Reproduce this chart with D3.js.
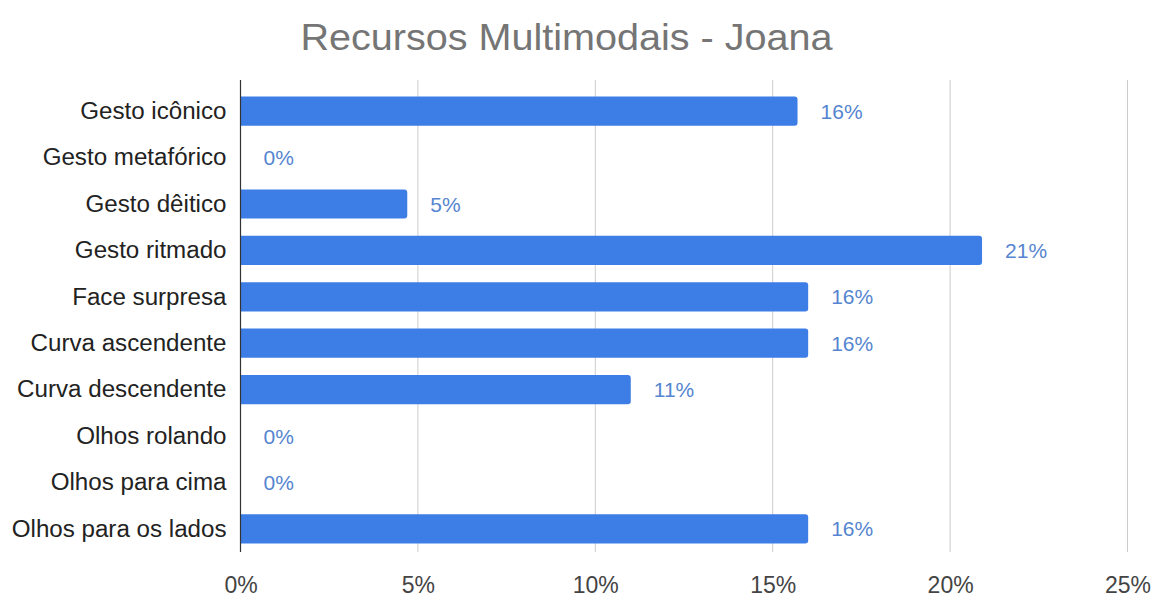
<!DOCTYPE html>
<html>
<head>
<meta charset="utf-8">
<script src="https://cdn.jsdelivr.net/npm/d3@7"></script>
<style>
  html, body { margin: 0; padding: 0; background: #fff; }
  svg { display: block; font-family: "Liberation Sans", Arial, sans-serif; }
</style>
</head>
<body>
<svg id="chart" width="1159" height="599"></svg>
<script>
// Categories (top to bottom) and their shares
const categories = [
  "Gesto icônico",
  "Gesto metafórico",
  "Gesto dêitico",
  "Gesto ritmado",
  "Face surpresa",
  "Curva ascendente",
  "Curva descendente",
  "Olhos rolando",
  "Olhos para cima",
  "Olhos para os lados"
];
const values = [0.157, 0, 0.047, 0.209, 0.16, 0.16, 0.11, 0, 0, 0.16];
const xTicks = [0, 0.05, 0.10, 0.15, 0.20, 0.25];
const title = "Recursos Multimodais - Joana";

const svg = d3.select("#chart");
const margin = { top: 88, right: 32, bottom: 47, left: 240.5 };
const width = 1159, height = 599;
const FONT = "'Liberation Sans', Arial, sans-serif";
const stretch = 1.05;

const x = d3.scaleLinear()
  .domain([0, 0.25])
  .range([margin.left, margin.left + 887]);

const y = d3.scaleBand()
  .domain(categories)
  .range([margin.top, height - margin.bottom])
  .paddingInner(0.37)
  .paddingOuter(0.185);

const pct = d3.format(".0%");

// Title
svg.append("text")
  .attr("text-anchor", "middle")
  .attr("transform", "translate(566.5, 50) scale(1.07,1)")
  .attr("font-family", FONT)
  .attr("font-size", 37)
  .attr("fill", "#757575")
  .text(title);

// Vertical grid lines
svg.append("g")
  .selectAll("line")
  .data(xTicks.slice(1))
  .join("line")
  .attr("x1", d => x(d)).attr("x2", d => x(d))
  .attr("y1", 80).attr("y2", height - margin.bottom)
  .attr("stroke", "#cccccc")
  .attr("stroke-width", 1);

// X axis tick labels
const xAxis = d3.axisBottom(x)
  .tickValues(xTicks)
  .tickFormat(pct)
  .tickSize(0)
  .tickPadding(0);
const gx = svg.append("g")
  .attr("transform", `translate(0, 593)`)
  .call(xAxis);
gx.select(".domain").remove();
gx.selectAll("text")
  .attr("font-size", 23)
  .attr("fill", "#444")
  .attr("font-family", FONT)
  .attr("y", 0)
  .attr("dy", "0");

// Y axis category labels
const yAxis = d3.axisLeft(y).tickSize(0).tickPadding(0);
const gy = svg.append("g")
  .attr("transform", `translate(${margin.left}, 0)`)
  .call(yAxis);
gy.select(".domain").remove();
gy.selectAll("text")
  .attr("font-size", 23)
  .attr("fill", "#222")
  .attr("font-family", FONT)
  .attr("x", 0)
  .attr("dy", "0.34em")
  .attr("transform", `translate(-14,0) scale(${stretch},1)`);

// Bars with rounded right end
const r = 3;
svg.append("g")
  .selectAll("path")
  .data(categories.map((c, i) => ({ c, v: values[i] })).filter(d => d.v > 0))
  .join("path")
  .attr("fill", "#3d7ee6")
  .attr("d", d => {
    const x0 = x(0), x1 = x(d.v), y0 = y(d.c), h = y.bandwidth();
    return `M${x0},${y0} H${x1 - r} Q${x1},${y0} ${x1},${y0 + r} V${y0 + h - r} Q${x1},${y0 + h} ${x1 - r},${y0 + h} H${x0} Z`;
  });

// Value labels
svg.append("g")
  .selectAll("text")
  .data(categories.map((c, i) => ({ c, v: values[i] })))
  .join("text")
  .attr("x", d => x(d.v) + 23)
  .attr("y", d => y(d.c) + y.bandwidth() / 2)
  .attr("dy", "0.36em")
  .attr("font-family", FONT)
  .attr("font-size", 21)
  .attr("fill", "#5585d0")
  .text(d => pct(d.v));

// Baseline axis at zero
svg.append("line")
  .attr("x1", x(0)).attr("x2", x(0))
  .attr("y1", 80).attr("y2", height - margin.bottom)
  .attr("stroke", "#333")
  .attr("stroke-width", 1.2);
</script>
</body>
</html>
